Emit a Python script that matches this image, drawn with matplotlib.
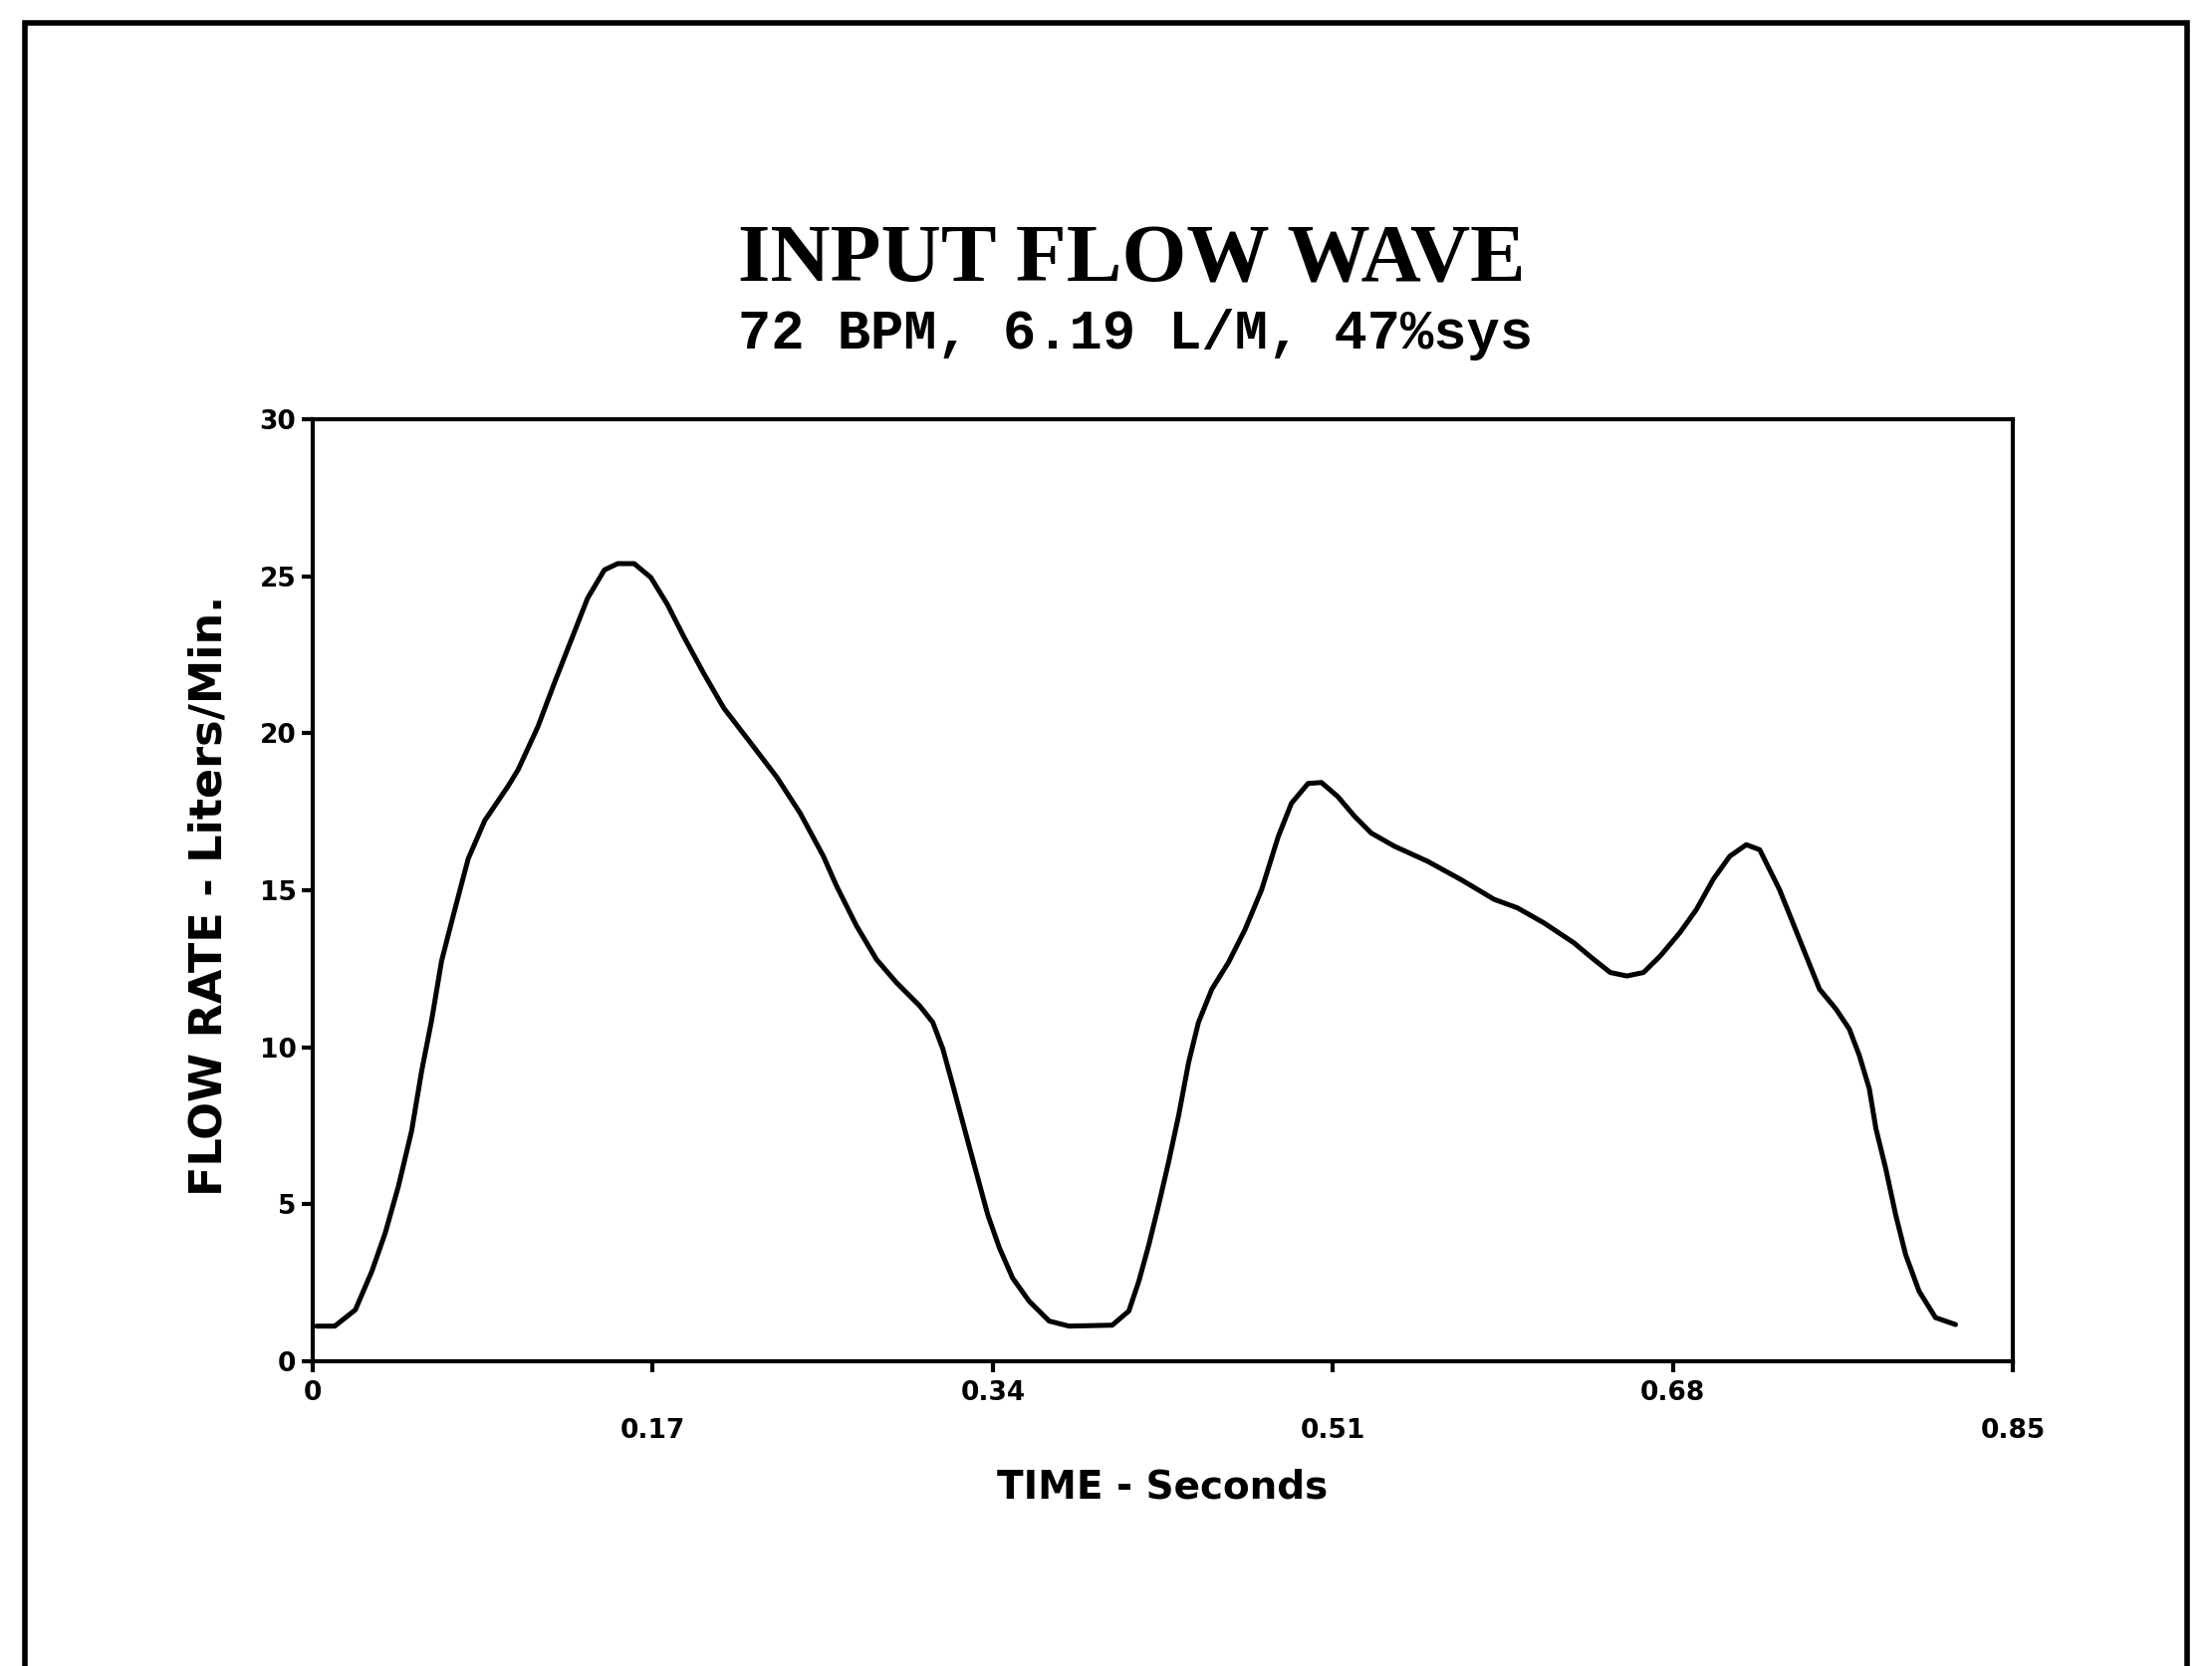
#!/usr/bin/env python3
# coding: utf-8

import matplotlib
matplotlib.use('Agg')
import matplotlib.pyplot as plt
from matplotlib.patches import Rectangle

# flow wave
time_s = [0.002, 0.011, 0.0213, 0.0295, 0.0362, 0.0428, 0.0494, 0.0544, 0.0594,
          0.0644, 0.071, 0.0777, 0.086, 0.0976, 0.1026, 0.1125, 0.1208, 0.1291,
          0.1374, 0.1458, 0.1524, 0.1607, 0.169, 0.1773, 0.1856, 0.1955, 0.2055,
          0.2188, 0.232, 0.2437, 0.2553, 0.2619, 0.2719, 0.2818, 0.2918, 0.3034,
          0.31, 0.315, 0.32, 0.3258, 0.3316, 0.3375, 0.3433, 0.3499, 0.3582,
          0.3682, 0.3781, 0.3997, 0.408, 0.413, 0.418, 0.4229, 0.4279, 0.4329,
          0.4379, 0.4428, 0.4495, 0.4578, 0.4661, 0.4744, 0.4827, 0.4893, 0.4976,
          0.5043, 0.5125, 0.5209, 0.5292, 0.5408, 0.5574, 0.574, 0.5906, 0.6022,
          0.6155, 0.6304, 0.6404, 0.6487, 0.657, 0.6653, 0.6736, 0.6835, 0.6918,
          0.7001, 0.7084, 0.7167, 0.7234, 0.7333, 0.74, 0.7466, 0.7533, 0.7615,
          0.7682, 0.7732, 0.7782, 0.7815, 0.7864, 0.7914, 0.7964, 0.8031, 0.8113,
          0.8213]
flow_lpm = [1.12, 1.12, 1.64, 2.86, 4.08, 5.57, 7.33, 9.23, 10.85,
            12.75, 14.38, 16.0, 17.22, 18.31, 18.83, 20.2, 21.6, 22.95,
            24.3, 25.2, 25.4, 25.4, 24.96, 24.1, 23.06, 21.9, 20.8,
            19.7, 18.6, 17.45, 16.08, 15.13, 13.86, 12.8, 12.06, 11.32,
            10.79, 9.95, 8.79, 7.41, 6.04, 4.66, 3.61, 2.65, 1.91,
            1.28, 1.12, 1.15, 1.6, 2.55, 3.71, 4.98, 6.35, 7.83,
            9.52, 10.79, 11.85, 12.7, 13.75, 15.02, 16.71, 17.77, 18.4,
            18.43, 17.98, 17.35, 16.82, 16.4, 15.92, 15.34, 14.71, 14.44,
            13.96, 13.33, 12.8, 12.38, 12.27, 12.38, 12.9, 13.65, 14.39,
            15.34, 16.08, 16.45, 16.29, 15.02, 13.96, 12.91, 11.85, 11.22,
            10.58, 9.74, 8.68, 7.41, 6.14, 4.66, 3.39, 2.23, 1.39,
            1.17]

x_ticks_upper = [0, 0.34, 0.68]
x_ticks_lower = [0.17, 0.51, 0.85]
y_ticks = [0, 5, 10, 15, 20, 25, 30]

title = 'INPUT FLOW WAVE'
subtitle = '72 BPM, 6.19 L/M, 47%sys'
xlabel = 'TIME - Seconds'
ylabel = 'FLOW RATE - Liters/Min.'

fig = plt.figure(figsize=(22.21, 16.73), dpi=100)
ax = fig.add_axes([0.1414, 0.1829, 0.7686, 0.5655])

ax.plot(time_s, flow_lpm, color='black', linewidth=3.6,
        solid_joinstyle='round', solid_capstyle='round')

ax.set_xlim(0, 0.85)
ax.set_ylim(0, 30)
for s in ax.spines.values():
    s.set_linewidth(3)

ax.set_yticks(y_ticks)
ax.set_yticklabels([str(v) for v in y_ticks], fontfamily='DejaVu Sans',
                   fontweight='bold', fontsize=19)
ax.tick_params(axis='y', direction='out', length=8, width=3, pad=4)

# staggered time labels: majors on the upper row, minors below
ax.set_xticks(x_ticks_upper)
ax.set_xticklabels(['0', '0.34', '0.68'], fontfamily='DejaVu Sans',
                   fontweight='bold', fontsize=19)
ax.set_xticks(x_ticks_lower, minor=True)
ax.set_xticklabels(['0.17', '0.51', '0.85'], minor=True,
                   fontfamily='DejaVu Sans', fontweight='bold', fontsize=19)
ax.tick_params(axis='x', which='major', direction='out', length=8,
               width=3, pad=6)
ax.tick_params(axis='x', which='minor', direction='out', length=8,
               width=3, pad=33)

fig.text(0.5115, 0.843, title, ha='center', va='center',
         fontfamily='Liberation Serif', fontweight='bold', fontsize=60)
fig.text(0.5135, 0.799, subtitle, ha='center', va='center',
         fontfamily='Liberation Mono', fontweight='bold', fontsize=40)
fig.text(0.5255, 0.107, xlabel, ha='center', va='center',
         fontfamily='DejaVu Sans', fontweight='bold', fontsize=28)
fig.text(0.0946, 0.4626, ylabel, ha='center', va='center', rotation=90,
         fontfamily='DejaVu Sans', fontweight='bold', fontsize=32)

# outer page frame, bottom edge runs off the sheet
fig.add_artist(Rectangle((0.0113, -0.05), 0.9775, 1.0363, fill=False,
                         edgecolor='black', linewidth=4,
                         transform=fig.transFigure))

fig.savefig('out.png', dpi=100, facecolor='white')
